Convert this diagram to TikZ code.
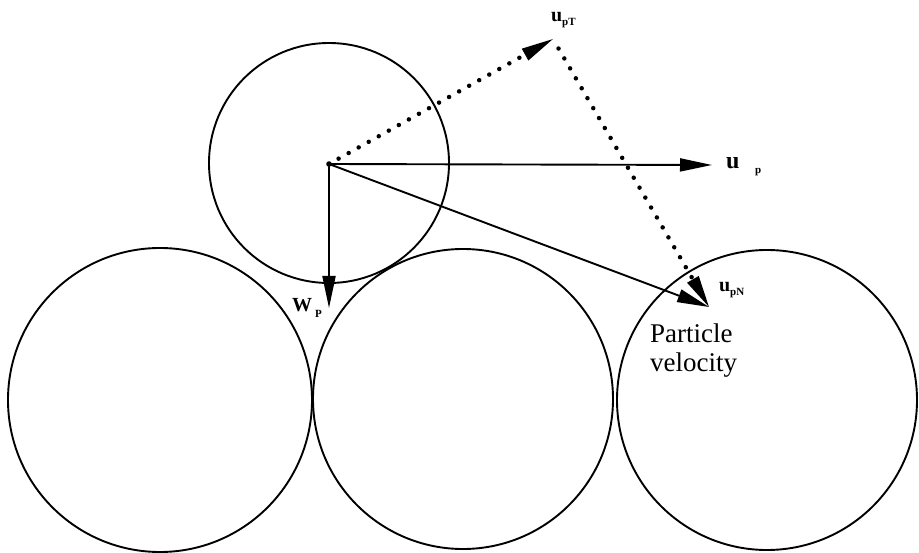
\documentclass[tikz,border=0pt]{standalone}
\usepackage{fontspec}
\setmainfont{Liberation Serif}
\usetikzlibrary{arrows.meta,calc}
\begin{document}
\begin{tikzpicture}[x=1pt,y=-1pt,
  ball/.style={draw,line width=1.9pt},
  vec/.style={line width=1.9pt,-{Triangle[length=32pt,width=13pt]}},
  dotline/.style={line width=4.5pt,line cap=round,dash pattern=on 0pt off 11.5pt},
  big/.style={font=\bfseries\fontsize{24}{24}\selectfont,inner sep=0pt},
  mid/.style={font=\bfseries\fontsize{20}{20}\selectfont,inner sep=0pt},
  wfont/.style={font=\bfseries\fontsize{20}{20}\selectfont,inner sep=0pt},
  small/.style={font=\bfseries\fontsize{11}{11}\selectfont,inner sep=0pt},
  txt/.style={font=\fontsize{27}{29}\selectfont,inner sep=0pt,align=left}]
\useasboundingbox (0,0) rectangle (919,553);
% particles
\coordinate (C0) at (329,163);
\coordinate (C1) at (160,400);
\coordinate (C2) at (463,399);
\coordinate (C3) at (767,400);
\draw[ball] (C0) circle (120);
\draw[ball] (C1) circle (152);
\draw[ball] (C2) circle (150);
\draw[ball] (C3) circle (150);
% vector points
\coordinate (O) at (329,164);
\coordinate (Up) at (712,165);
\coordinate (Wp) at (329,308);
\coordinate (T) at (553,39);
\coordinate (P) at (709,307);
\coordinate (Ta) at ($(T)!31pt!(O)$);
\coordinate (Pa) at ($(P)!31pt!(T)$);
% solid vectors
\draw[vec] (O) -- (Up);
\draw[vec] (O) -- (Wp);
\draw[vec] (O) -- (P);
% dotted components
\draw[dotline] ($(O)!11pt!(T)$) -- (Ta);
\draw[vec] (Ta) -- (T);
\draw[dotline] ($(T)!11pt!(P)$) -- (Pa);
\draw[vec] (Pa) -- (P);
\fill (O) circle (2.8pt);
% labels
\node[big,anchor=base west] (lu) at (726,169) {u};
\node[small,anchor=base west] (lup) at (755,174) {p};
\node[mid,anchor=base west] (lut) at (551,22) {u};
\node[small,anchor=base west] (lutp) at (562,26) {pT};
\node[mid,anchor=base west] (lun) at (719,292) {u};
\node[small,anchor=base west] (lunp) at (730,296) {pN};
\node[wfont,anchor=base west] (lw) at (292,312) {W};
\node[small,anchor=base west] (lwp) at (315,318) {P};
\node[txt,anchor=north west] (pv) at (650,324) {Particle\\velocity};
\end{tikzpicture}
\end{document}
